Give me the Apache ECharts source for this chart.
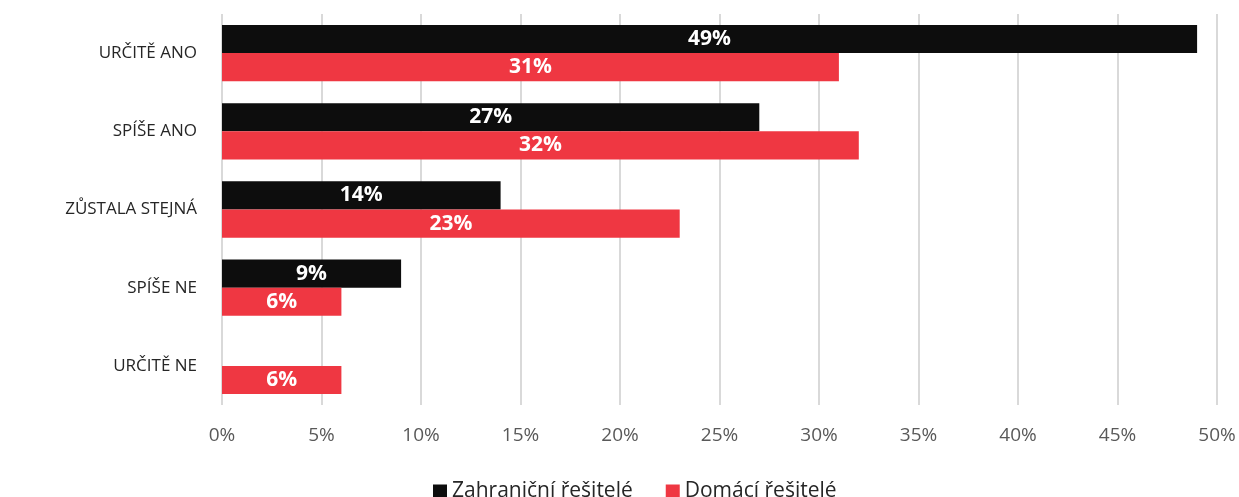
<!DOCTYPE html>
<html>
<head>
<meta charset="utf-8">
<script src="https://cdn.jsdelivr.net/npm/echarts@6/dist/echarts.min.js"></script>
<style>
  html, body { margin: 0; padding: 0; background: #fff; }
  #chart { width: 1239px; height: 497px; }
</style>
</head>
<body>
<div id="chart"></div>
<script>
const categories = ['URČITĚ ANO', 'SPÍŠE ANO', 'ZŮSTALA STEJNÁ', 'SPÍŠE NE', 'URČITĚ NE'];
const seriesNames = ['Zahraniční řešitelé', 'Domácí řešitelé'];
const foreignValues = [49, 27, 14, 9, 0];
const domesticValues = [31, 32, 23, 6, 6];
const tickMax = 50;
const tickStep = 5;

const chart = echarts.init(document.getElementById('chart'));

const barLabel = {
  show: true,
  position: 'inside',
  color: '#fff',
  fontFamily: 'Open Sans',
  fontWeight: 'bold',
  fontSize: 21,
  formatter: p => p.value ? p.value + '%' : ''
};

const option = {
  animation: false,
  grid: { left: 222, right: 22, top: 14, bottom: 92, containLabel: false },
  legend: {
    top: 476,
    left: 428,
    itemWidth: 14,
    itemHeight: 14,
    itemGap: 33,
    icon: 'rect',
    textStyle: { fontFamily: 'Open Sans', fontSize: 21, color: '#262626' },
    data: seriesNames
  },
  xAxis: {
    type: 'value',
    min: 0,
    max: tickMax,
    interval: tickStep,
    axisLine: { show: false },
    axisTick: { show: false },
    axisLabel: {
      formatter: '{value}%',
      fontFamily: 'Open Sans',
      fontSize: 19,
      color: '#595959',
      margin: 21
    },
    splitLine: { lineStyle: { color: '#d9d9d9', width: 2 } }
  },
  yAxis: {
    type: 'category',
    inverse: true,
    data: categories,
    axisLine: { show: false },
    axisTick: { show: false },
    axisLabel: {
      fontFamily: 'Open Sans',
      fontSize: 17,
      color: '#262626',
      margin: 25
    }
  },
  series: [
    {
      name: seriesNames[0],
      type: 'bar',
      data: foreignValues,
      barGap: '0%',
      barCategoryGap: '28%',
      itemStyle: { color: '#0d0d0d' },
      label: barLabel
    },
    {
      name: seriesNames[1],
      type: 'bar',
      data: domesticValues,
      itemStyle: { color: '#ef3742' },
      label: barLabel
    }
  ]
};

chart.setOption(option);
</script>
</body>
</html>
